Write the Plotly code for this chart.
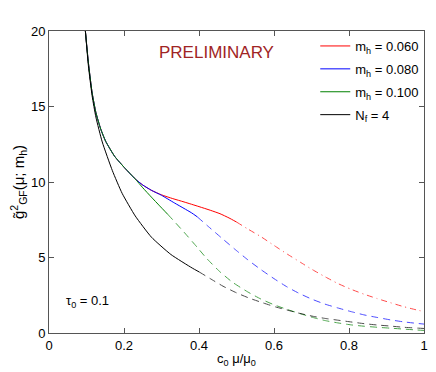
import plotly.graph_objects as go

# ---- data ----
common_x = [0.097, 0.105, 0.115, 0.125, 0.138, 0.151, 0.175, 0.203, 0.23]
common_y = [20.0, 17.9, 15.9, 14.6, 13.5, 12.7, 11.7, 10.9, 10.2]

red_x_solid = common_x + [0.25, 0.273, 0.30, 0.33, 0.36, 0.40, 0.43, 0.456, 0.48, 0.50]
red_y_solid = common_y + [9.8, 9.45, 9.15, 8.9, 8.68, 8.37, 8.13, 7.9, 7.62, 7.35]
red_x_ext = [0.50, 0.53, 0.565, 0.60, 0.635, 0.67, 0.70, 0.735, 0.77, 0.805, 0.84, 0.875, 0.91, 0.945, 0.98, 1.0]
red_y_ext = [7.35, 6.89, 6.38, 5.8, 5.23, 4.69, 4.23, 3.74, 3.28, 2.9, 2.57, 2.28, 2.01, 1.75, 1.53, 1.42]

blue_x_solid = common_x + [0.25, 0.273, 0.30, 0.334, 0.36, 0.38, 0.395]
blue_y_solid = common_y + [9.8, 9.45, 9.12, 8.62, 8.25, 7.96, 7.7]
blue_x_ext = [0.395, 0.425, 0.46, 0.495, 0.53, 0.565, 0.60, 0.635, 0.665, 0.70, 0.735, 0.77, 0.805, 0.84, 0.875, 0.91, 0.945, 0.98, 1.0]
blue_y_ext = [7.7, 7.05, 6.3, 5.56, 4.85, 4.2, 3.6, 3.05, 2.65, 2.25, 1.92, 1.66, 1.42, 1.2, 1.03, 0.87, 0.74, 0.64, 0.59]

green_x_solid = common_x + [0.25, 0.273, 0.295, 0.317]
green_y_solid = common_y + [9.62, 9.0, 8.42, 7.85]
green_x_ext = [0.317, 0.33, 0.36, 0.395, 0.42, 0.456, 0.49, 0.53, 0.565, 0.60, 0.635, 0.67, 0.705, 0.735, 0.77, 0.805, 0.84, 0.875, 0.91, 0.945, 0.98, 1.0]
green_y_ext = [7.85, 7.5, 6.68, 5.68, 4.95, 4.05, 3.35, 2.72, 2.25, 1.87, 1.56, 1.28, 1.02, 0.83, 0.67, 0.54, 0.45, 0.38, 0.32, 0.26, 0.2, 0.17]

black_x_solid = [0.097, 0.105, 0.115, 0.125, 0.142, 0.169, 0.195, 0.23, 0.273, 0.325, 0.382, 0.40]
black_y_solid = [20.0, 17.7, 15.7, 14.3, 12.65, 10.75, 9.25, 7.75, 6.35, 5.2, 4.3, 4.05]
black_x_ext = [0.40, 0.43, 0.464, 0.50, 0.535, 0.57, 0.605, 0.635, 0.665, 0.705, 0.735, 0.77, 0.80, 0.84, 0.875, 0.91, 0.945, 0.985, 1.0]
black_y_ext = [4.05, 3.6, 3.1, 2.66, 2.3, 2.0, 1.72, 1.52, 1.32, 1.1, 0.97, 0.85, 0.75, 0.62, 0.53, 0.46, 0.38, 0.32, 0.3]

series_names = ["m<sub>h</sub> = 0.060", "m<sub>h</sub> = 0.080", "m<sub>h</sub> = 0.100", "N<sub>f</sub> = 4"]
x_ticks = [0, 0.2, 0.4, 0.6, 0.8, 1]
x_tick_labels = ["0", "0.2", "0.4", "0.6", "0.8", "1"]
y_ticks = [0, 5, 10, 15, 20]

# ---- figure ----
FONT = "Liberation Sans, Arial, Helvetica, sans-serif"
fig = go.Figure()

specs = [
    (red_x_solid, red_y_solid, red_x_ext, red_y_ext, "#ff0000", "6px,4px,1px,4px"),
    (blue_x_solid, blue_y_solid, blue_x_ext, blue_y_ext, "#0000ff", "7px,5px"),
    (green_x_solid, green_y_solid, green_x_ext, green_y_ext, "#008000", "7px,5px"),
    (black_x_solid, black_y_solid, black_x_ext, black_y_ext, "#000000", "7px,5px"),
]
for i, (name, (xs, ys, xe, ye, col, dash)) in enumerate(zip(series_names, specs)):
    fig.add_trace(go.Scatter(x=xs, y=ys, mode="lines", name=name, legendgroup=f"g{i}",
                             line=dict(color=col, width=1, shape="spline", smoothing=0.5)))
for i, (name, (xs, ys, xe, ye, col, dash)) in enumerate(zip(series_names, specs)):
    fig.add_trace(go.Scatter(x=xe, y=ye, mode="lines", name=name, showlegend=False,
                             legendgroup=f"g{i}", opacity=0.7,
                             line=dict(color=col, width=1, dash=dash, shape="spline", smoothing=0.5)))

axis_common = dict(showline=True, linecolor="#555555", linewidth=1, mirror="ticks",
                   ticks="inside", ticklen=5, tickcolor="#555555", showgrid=False,
                   zeroline=False, tickfont=dict(size=13, color="black", family=FONT))

fig.update_layout(
    width=428, height=364,
    margin=dict(l=37, r=8, t=23, b=32),
    paper_bgcolor="white", plot_bgcolor="white",
    font=dict(family=FONT, size=13, color="black"),
    showlegend=True,
    legend=dict(x=0.71, y=1.0, xanchor="left", yanchor="top", bgcolor="rgba(0,0,0,0)",
                borderwidth=0, font=dict(size=13, family=FONT), tracegroupgap=3,
                traceorder="grouped"),
    xaxis=dict(range=[0, 1], tickvals=x_ticks, ticktext=x_tick_labels,
               title=dict(text="c<sub>0</sub> μ/μ<sub>0</sub>", font=dict(size=13), standoff=2),
               **axis_common),
    yaxis=dict(range=[0, 20], tickvals=y_ticks,
               title=dict(text="g̃<sup>2</sup><sub>GF</sub>(μ; m<sub>h</sub>)", font=dict(size=15), standoff=4),
               **axis_common),
    annotations=[
        dict(x=0.446, y=18.6, xref="x", yref="y", text="PRELIMINARY", showarrow=False,
             font=dict(size=17, color="#a02424", family=FONT)),
        dict(x=0.04, y=2.1, xref="x", yref="y", text="τ<sub>0</sub> = 0.1", showarrow=False,
             xanchor="left", font=dict(size=13, color="black", family=FONT)),
    ],
)

fig.write_html("out.html")
